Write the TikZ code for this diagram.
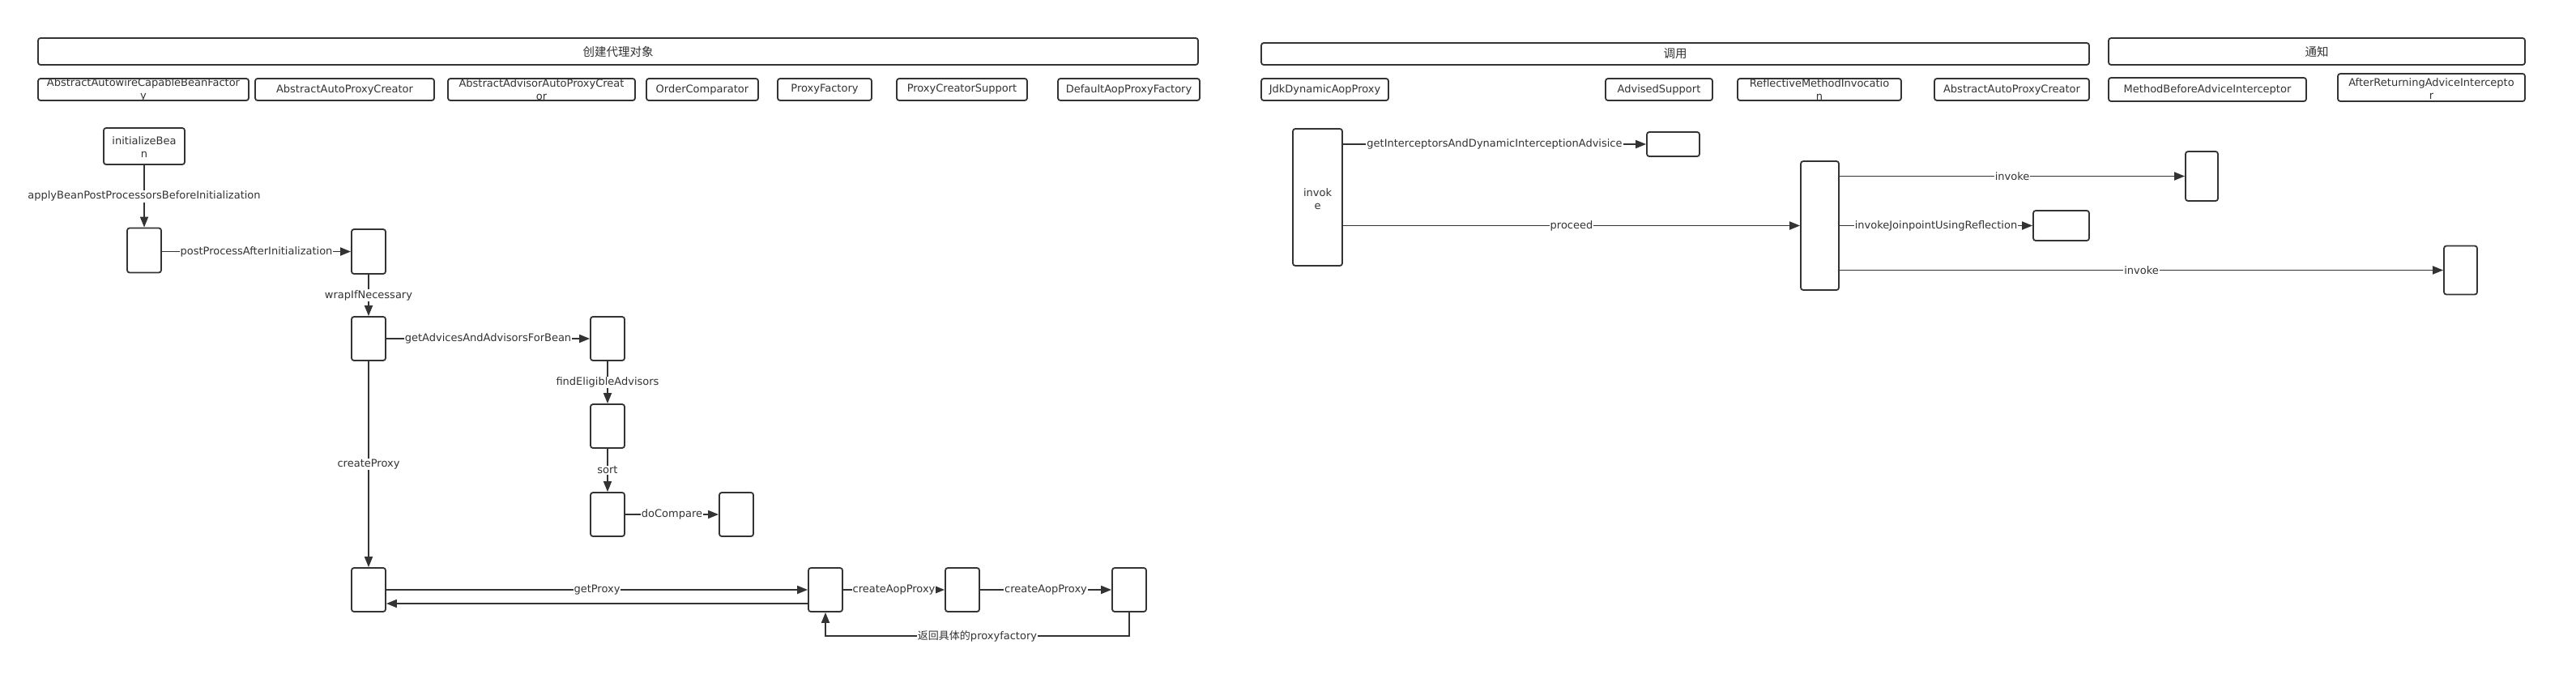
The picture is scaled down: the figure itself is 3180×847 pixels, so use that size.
\documentclass[tikz,border=0pt]{standalone}
\usepackage{fontspec}
\setmainfont{DejaVu Sans}
\newfontfamily\cjk{Noto Sans CJK SC}
\usetikzlibrary{arrows.meta}
\definecolor{ink}{HTML}{333333}
\begin{document}
\begin{tikzpicture}[x=1pt,y=-1pt,
  box/.style={draw=ink, line width=1.8pt, rounded corners=3pt, fill=white, inner sep=0pt, text=ink, font=\fontsize{13}{16}\selectfont, align=center},
  hdr/.style={box, font=\cjk\fontsize{14.5}{16}\selectfont},
  txt/.style={inner sep=0pt, text=ink, font=\fontsize{13}{16}\selectfont, align=center},
  lbl/.style={fill=white, inner sep=1pt, text=ink, font=\fontsize{13}{16}\selectfont},
  arr/.style={draw=ink, line width=1.8pt, -{Triangle[length=13pt,width=10pt]}},
  con/.style={draw=ink, line width=1.8pt}
]
\useasboundingbox (0,0) rectangle (3180,847);
% headers
\node[hdr, minimum width=1432pt, minimum height=33pt] (hA) at (763,63.5) {创建代理对象};
\node[hdr, minimum width=1022pt, minimum height=27pt] (hB) at (2068,66.5) {调用};
\node[hdr, minimum width=514pt, minimum height=33pt] (hC) at (2860,63.5) {通知};
% class row
\node[box, minimum width=260pt, minimum height=27pt] (c1) at (177,110.5) {};
\node[txt] (c1t) at (177,111) {AbstractAutowireCapableBeanFactor\\y};
\node[box, minimum width=221pt, minimum height=27pt] (c2) at (425.5,110.5) {AbstractAutoProxyCreator};
\node[box, minimum width=231pt, minimum height=27pt] (c3) at (668.5,110.5) {};
\node[txt] (c3t) at (668.5,111) {AbstractAdvisorAutoProxyCreat\\or};
\node[box, minimum width=138pt, minimum height=27pt] (c4) at (867,110.5) {OrderComparator};
\node[box, minimum width=116pt, minimum height=27pt] (c5) at (1018,110.5) {ProxyFactory};
\node[box, minimum width=161pt, minimum height=27pt] (c6) at (1187.5,110.5) {ProxyCreatorSupport};
\node[box, minimum width=175pt, minimum height=27pt] (c7) at (1393.5,110.5) {DefaultAopProxyFactory};
\node[box, minimum width=157pt, minimum height=27pt] (d1) at (1635.5,110.5) {JdkDynamicAopProxy};
\node[box, minimum width=132pt, minimum height=27pt] (d2) at (2048,110.5) {AdvisedSupport};
\node[box, minimum width=202pt, minimum height=27pt] (d3) at (2246,110.5) {};
\node[txt] (d3t) at (2246,111) {ReflectiveMethodInvocatio\\n};
\node[box, minimum width=191pt, minimum height=27pt] (d4) at (2483.5,110.5) {AbstractAutoProxyCreator};
\node[box, minimum width=244pt, minimum height=29pt] (e1) at (2725,110.5) {MethodBeforeAdviceInterceptor};
\node[box, minimum width=231pt, minimum height=34pt] (e2) at (3001.5,108) {};
\node[txt] (e2t) at (3001.5,110) {AfterReturningAdviceIntercepto\\r};
% left flow
\node[box, minimum width=100pt, minimum height=45pt] (b0) at (178,180.5) {};
\node[txt] (b0t) at (178,182) {initializeBea\\n};
\node[box, minimum width=42pt, minimum height=55pt] (b1) at (178,309) {};
\node[box, minimum width=42pt, minimum height=55pt] (b2) at (455,310.5) {};
\node[box, minimum width=42pt, minimum height=54pt] (b3) at (455,418) {};
\node[box, minimum width=42pt, minimum height=54pt] (b4) at (750,418) {};
\node[box, minimum width=42pt, minimum height=54pt] (b5) at (750,526) {};
\node[box, minimum width=42pt, minimum height=54pt] (b6) at (750,635) {};
\node[box, minimum width=42pt, minimum height=54pt] (b7) at (909,635) {};
\node[box, minimum width=42pt, minimum height=54pt] (b8) at (455,728) {};
\node[box, minimum width=42pt, minimum height=54pt] (b9) at (1019,728) {};
\node[box, minimum width=42pt, minimum height=54pt] (b10) at (1188,728) {};
\node[box, minimum width=42pt, minimum height=54pt] (b11) at (1394,728) {};
\draw[arr] (b0.south) -- node[lbl]{applyBeanPostProcessorsBeforeInitialization} (b1.north);
\draw[arr] (b2.west -| b1.east) -- node[lbl]{postProcessAfterInitialization} (b2.west);
\draw[arr] (b2.south) -- node[lbl]{wrapIfNecessary} (b3.north);
\draw[arr] (b3.east) -- node[lbl]{getAdvicesAndAdvisorsForBean} (b4.west);
\draw[arr] (b4.south) -- node[lbl]{findEligibleAdvisors} (b5.north);
\draw[arr] (b5.south) -- node[lbl]{sort} (b6.north);
\draw[arr] (b6.east) -- node[lbl]{doCompare} (b7.west);
\draw[arr] (b3.south) -- node[lbl]{createProxy} (b8.north);
\draw[arr] (b8.east) -- node[lbl]{getProxy} (b9.west);
\draw[arr] ([yshift=-17pt]b9.west) -- ([yshift=-17pt]b8.east);
\draw[arr] (b9.east) -- node[lbl]{createAopProxy} (b10.west);
\draw[arr] (b10.east) -- node[lbl]{createAopProxy} (b11.west);
\coordinate (rt) at (1394,785);
\coordinate (lt) at (1019,785);
\draw[arr] (b11.south) -- (rt) -- node[lbl]{{\cjk 返回具体的}proxyfactory} (lt) -- (b9.south);
% right flow
\node[box, minimum width=61pt, minimum height=169pt] (r0) at (1626.5,243.5) {};
\node[txt] (r0t) at (1626.5,245.5) {invok\\e};
\node[box, minimum width=65pt, minimum height=30pt] (r1) at (2065.5,178) {};
\node[box, minimum width=47pt, minimum height=159pt] (r2) at (2246.5,278.5) {};
\node[box, minimum width=40pt, minimum height=61pt] (r3) at (2718,217.5) {};
\node[box, minimum width=69pt, minimum height=37pt] (r4) at (2544.5,278.5) {};
\node[box, minimum width=41pt, minimum height=60pt] (r5) at (3037.5,333.5) {};
\draw[arr] (r1.west -| r0.east) -- node[lbl]{getInterceptorsAndDynamicInterceptionAdvisice} (r1.west);
\draw[arr] (r2.west -| r0.east) -- node[lbl]{proceed} (r2.west);
\draw[arr] (r3.west -| r2.east) -- node[lbl]{invoke} (r3.west);
\draw[arr] (r4.west -| r2.east) -- node[lbl]{invokeJoinpointUsingReflection} (r4.west);
\draw[arr] (r5.west -| r2.east) -- node[lbl]{invoke} (r5.west);
\end{tikzpicture}
\end{document}
